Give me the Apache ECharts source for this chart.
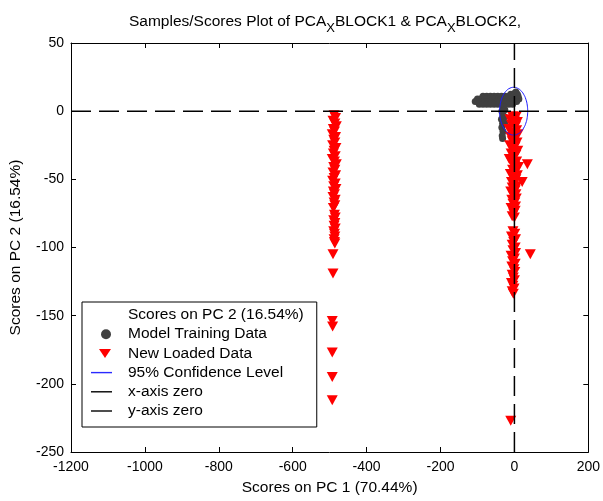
<!DOCTYPE html>
<html>
<head>
<meta charset="utf-8">
<script src="https://cdn.jsdelivr.net/npm/echarts@6/dist/echarts.min.js"></script>
<style>
  html, body { margin: 0; padding: 0; background: #fff; }
  #chart { width: 603px; height: 501px; }
</style>
</head>
<body>
<div id="chart"></div>
<script>
// axis ranges
const xRange = [-1200, 200];
const yRange = [-250, 50];

// Model Training Data (gray blob near the origin)
const trainingData = [
  [-85, 11], [-75, 11], [-65, 11], [-55, 11], [-45, 11], [-35, 11], [-25, 11], [-15, 11], [-5, 11], [5, 11], [10, 11],
  [-100, 9], [-92, 9], [-84, 9], [-76, 9], [-68, 9], [-60, 9], [-52, 9], [-44, 9], [-36, 9], [-28, 9], [-20, 9], [-12, 9], [-4, 9], [4, 9], [12, 9],
  [-106, 7], [-98, 7], [-90, 7], [-82, 7], [-74, 7], [-66, 7], [-58, 7], [-50, 7], [-42, 7], [-34, 7], [-26, 7], [-18, 7], [-10, 7], [-2, 7], [6, 7],
  [-95, 5], [-85, 5], [-75, 5], [-65, 5], [-55, 5], [-45, 5], [-35, 5], [-25, 5], [-15, 5], [-5, 5],
  [0, 13], [8, 12.5], [-10, 12.5], [4, 14],
  [-30, 3], [-34, 0], [-31, -3], [-35, -6], [-32, -9], [-34, -12], [-31, -15], [-33, -18], [-32, -20],
  [-26, 1], [-28, -4], [-26, -8]
];

// New Loaded Data: column around PC1 = -487
const loadedColumnLeft = [
  [-488, -3], [-484, -5], [-491, -7], [-486, -9], [-482, -11], [-490, -13], [-487, -15], [-493, -17],
  [-484, -19], [-489, -21], [-486, -23], [-492, -25], [-483, -27], [-488, -29], [-490, -31], [-485, -33],
  [-493, -35], [-487, -37], [-482, -39], [-489, -41], [-486, -43], [-491, -45], [-484, -47], [-488, -49],
  [-492, -51], [-485, -53], [-489, -55], [-483, -57], [-490, -59], [-487, -61], [-491, -63], [-485, -65],
  [-488, -67], [-486, -69], [-490, -71], [-487, -76], [-485, -78], [-489, -80], [-486, -82], [-488, -84],
  [-485, -86], [-489, -88], [-487, -90], [-486, -92], [-488, -94], [-487, -96], [-486, -97],
  [-491, -105], [-491, -119], [-493, -154], [-492, -158], [-493, -177], [-493, -195], [-493, -212]
];

// New Loaded Data: column around PC1 = 0
const loadedColumnZero = [
  [-5, -4], [5, -4], [-12, -6], [0, -7], [8, -8], [-8, -10], [3, -11], [-15, -13], [6, -14], [-3, -16],
  [10, -17], [-10, -19], [1, -20], [-6, -22], [7, -23], [-13, -25], [2, -26], [-4, -28], [9, -29], [-9, -31],
  [4, -32], [-2, -34], [-14, -35], [6, -37], [-7, -38], [1, -40], [11, -41], [-5, -43], [3, -44], [-11, -46],
  [8, -47], [-3, -49], [4, -50], [-8, -52], [0, -53], [6, -55], [-6, -56], [2, -58], [-10, -59], [4, -61],
  [-3, -62], [5, -64], [-7, -65], [1, -67], [-4, -68], [3, -70], [-9, -71], [2, -73], [-2, -75], [-6, -77], [0, -78],
  [-4, -88], [1, -90], [-8, -92], [3, -94], [-2, -96], [-6, -98], [2, -100], [-4, -102], [3, -104], [-9, -106],
  [0, -108], [-5, -110], [2, -112], [-7, -114], [-1, -116], [1, -118], [-6, -120], [-3, -122], [0, -124],
  [-8, -126], [-4, -128], [-1, -130], [-6, -132], [-3, -134],
  [35, -39], [21, -52], [43, -105], [-10, -227]
];

// 95% confidence ellipse outline
const ellipse95 = [
  [36, 0], [34.7, 4.5], [30.9, 8.8], [24.9, 12.4], [17, 15.2], [7.8, 16.9], [-2, 17.5], [-11.8, 16.9],
  [-21, 15.2], [-28.9, 12.4], [-34.9, 8.8], [-38.7, 4.5], [-40, 0], [-38.7, -4.5], [-34.9, -8.8],
  [-28.9, -12.4], [-21, -15.2], [-11.8, -16.9], [-2, -17.5], [7.8, -16.9], [17, -15.2], [24.9, -12.4],
  [30.9, -8.8], [34.7, -4.5], [36, 0]
];

const xZeroLine = [[-1200, 0], [200, 0]];
const yZeroLine = [[0, -250], [0, 50]];

const FONT = 'Liberation Sans, Arial, sans-serif';
const TRI_DOWN = 'path://M0,0 L10,0 L5,9 Z';

// legend icons (the two degenerate segments fix the icon box to 32x14)
const ICON_BOX = 'M0,0 L0,0 M32,14 L32,14 ';
const ICON_CIRCLE = 'path://' + ICON_BOX + 'M20,7 A5,5 0 1,1 10,7 A5,5 0 1,1 20,7 Z';
const ICON_TRI = 'path://' + ICON_BOX + 'M8,2.5 L20,2.5 L14,11.5 Z';
const ICON_LINE = 'path://' + ICON_BOX + 'M0,6.3 L21,6.3 L21,7.7 L0,7.7 Z';

const chart = echarts.init(document.getElementById('chart'));

const boxAxis = {
  type: 'value',
  axisLine: { show: true, onZero: false, lineStyle: { color: '#000', width: 1 } },
  axisTick: { show: true, inside: true, length: 5, lineStyle: { color: '#000' } },
  splitLine: { show: false }
};

const option = {
  animation: false,
  backgroundColor: '#fff',
  title: {
    text: 'Samples/Scores Plot of PCA{s|X}BLOCK1 & PCA{s|X}BLOCK2,',
    left: 124,
    top: 3,
    textStyle: {
      fontFamily: FONT,
      fontSize: 15.5,
      fontWeight: 'normal',
      color: '#000',
      rich: {
        s: { fontFamily: FONT, fontSize: 13, color: '#000', padding: [14, 0, 0, 0] }
      }
    }
  },
  grid: { left: 69, right: 11, top: 43, bottom: 48 },
  legend: {
    orient: 'vertical',
    left: 82,
    top: 302,
    padding: [5, 13, 8, 9],
    itemWidth: 32,
    itemHeight: 14,
    itemGap: 3.2,
    selectedMode: false,
    backgroundColor: '#fff',
    borderColor: '#000',
    borderWidth: 1,
    borderRadius: 0,
    textStyle: { fontFamily: FONT, fontSize: 15.5, color: '#000' },
    data: [
      { name: 'Scores on PC 2 (16.54%)', icon: 'none' },
      { name: 'Model Training Data', icon: ICON_CIRCLE, itemStyle: { color: '#404040', borderWidth: 0, opacity: 1 } },
      { name: 'New Loaded Data', icon: ICON_TRI, itemStyle: { color: '#ff0000', borderWidth: 0, opacity: 1 } },
      { name: '95% Confidence Level', icon: ICON_LINE, itemStyle: { color: '#2a2aff', borderWidth: 0 } },
      { name: 'x-axis zero', icon: ICON_LINE, itemStyle: { color: '#000', borderWidth: 0 } },
      { name: 'y-axis zero', icon: ICON_LINE, itemStyle: { color: '#000', borderWidth: 0 } }
    ]
  },
  xAxis: [
    Object.assign({}, boxAxis, {
      min: xRange[0], max: xRange[1], interval: 200,
      position: 'bottom',
      name: 'Scores on PC 1 (70.44%)',
      nameLocation: 'middle',
      nameGap: 28,
      nameTextStyle: { fontFamily: FONT, fontSize: 15.5, color: '#000' },
      axisLabel: { fontFamily: FONT, fontSize: 14, color: '#000', margin: 8, formatter: v => String(v) }
    }),
    Object.assign({}, boxAxis, {
      min: xRange[0], max: xRange[1], interval: 200,
      position: 'top',
      axisLabel: { show: false }
    })
  ],
  yAxis: [
    Object.assign({}, boxAxis, {
      min: yRange[0], max: yRange[1], interval: 50,
      position: 'left',
      name: 'Scores on PC 2 (16.54%)',
      nameLocation: 'middle',
      nameGap: 47,
      nameTextStyle: { fontFamily: FONT, fontSize: 15.5, color: '#000' },
      axisLabel: { fontFamily: FONT, fontSize: 14, color: '#000', margin: 7, formatter: v => String(v) }
    }),
    Object.assign({}, boxAxis, {
      min: yRange[0], max: yRange[1], interval: 50,
      position: 'right',
      axisLabel: { show: false }
    })
  ],
  series: [
    {
      name: 'Scores on PC 2 (16.54%)',
      type: 'scatter',
      data: []
    },
    {
      name: 'Model Training Data',
      type: 'scatter',
      symbol: 'circle',
      symbolSize: 7,
      itemStyle: { color: '#404040', opacity: 1 },
      data: trainingData,
      z: 2
    },
    {
      name: 'New Loaded Data',
      type: 'scatter',
      symbol: TRI_DOWN,
      symbolSize: [11, 10],
      itemStyle: { color: '#ff0000', opacity: 1 },
      data: loadedColumnLeft.concat(loadedColumnZero),
      z: 3
    },
    {
      name: '95% Confidence Level',
      type: 'line',
      symbol: 'none',
      smooth: true,
      lineStyle: { color: '#1a1aff', width: 1 },
      itemStyle: { color: '#2a2aff' },
      data: ellipse95,
      z: 4
    },
    {
      name: 'x-axis zero',
      type: 'line',
      symbol: 'none',
      lineStyle: { color: '#000', width: 1.5, type: [20, 8] },
      itemStyle: { color: '#000' },
      data: xZeroLine,
      z: 5
    },
    {
      name: 'y-axis zero',
      type: 'line',
      symbol: 'none',
      lineStyle: { color: '#000', width: 1.5, type: [20, 8] },
      itemStyle: { color: '#000' },
      data: yZeroLine,
      z: 5
    }
  ]
};

chart.setOption(option);
</script>
</body>
</html>
